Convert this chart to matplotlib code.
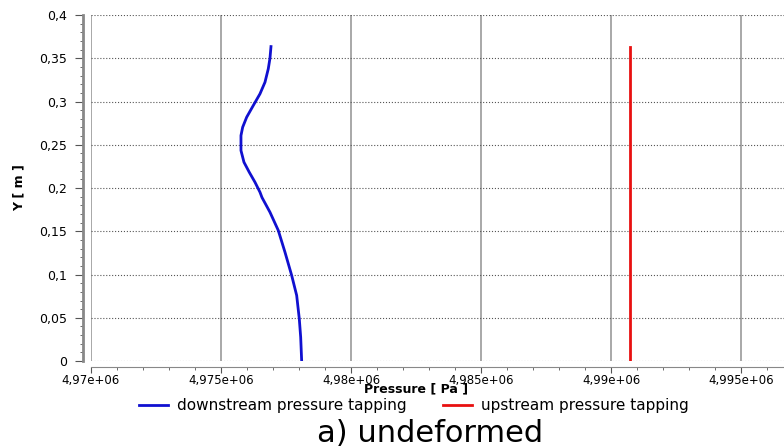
import numpy as np
import matplotlib.pyplot as plt
from matplotlib.ticker import MultipleLocator

# %%
# Pressure profiles
y_down = [0.3635, 0.350, 0.3378, 0.3223, 0.3089, 0.2954, 0.2819, 0.2703, 0.2607,
          0.2434, 0.2299, 0.2183, 0.2068, 0.1952, 0.1891, 0.1721, 0.151, 0.1259,
          0.099, 0.0759, 0.049, 0.0277, 0.0]
p_down = [4.976923e6, 4.976884e6, 4.976819e6, 4.976692e6, 4.976500e6, 4.976242e6,
          4.975988e6, 4.975834e6, 4.975769e6, 4.975769e6, 4.975884e6, 4.976088e6,
          4.976307e6, 4.976500e6, 4.976577e6, 4.976884e6, 4.977204e6, 4.977461e6,
          4.977719e6, 4.977911e6, 4.978011e6, 4.978065e6, 4.978103e6]
y_up = [0.0, 0.3635]
p_up = [4.99073e6, 4.99073e6]

xticks = [4.97e6, 4.975e6, 4.98e6, 4.985e6, 4.99e6, 4.995e6]
xtick_labels = ['4,97e+06', '4,975e+06', '4,98e+06', '4,985e+06', '4,99e+06', '4,995e+06']
yticks = [0, 0.05, 0.1, 0.15, 0.2, 0.25, 0.3, 0.35, 0.4]
ytick_labels = ['0', '0,05', '0,1', '0,15', '0,2', '0,25', '0,3', '0,35', '0,4']

# %%
fig = plt.figure(figsize=(7.84, 4.48), dpi=100)
ax = fig.add_axes([0.116, 0.194, 0.884, 0.7725])

ax.plot(p_down, y_down, color='#1010d0', lw=2, label='downstream pressure tapping')
ax.plot(p_up, y_up, color='#e81010', lw=2, label='upstream pressure tapping')

ax.set_xlim(4.97e6, 4.99665e6)
ax.set_ylim(0, 0.4)
ax.set_xticks(xticks)
ax.set_xticklabels(xtick_labels)
ax.set_yticks(yticks)
ax.set_yticklabels(ytick_labels)
ax.xaxis.set_minor_locator(MultipleLocator(1000))
ax.yaxis.set_minor_locator(MultipleLocator(0.01))

for lab in ax.get_xticklabels() + ax.get_yticklabels():
    lab.set_fontweight('bold')
    lab.set_color('#333333')
ax.tick_params(axis='x', which='major', labelsize=8.5, length=4, color='#555555', pad=1)
ax.tick_params(axis='y', which='major', labelsize=9, length=6, color='#555555', pad=5)
ax.tick_params(axis='both', which='minor', length=2.5, color='#555555')

# grid: vertical solid grey, horizontal dotted
ax.grid(axis='x', which='major', color='#999999', lw=1.2, ls='-')
ax.grid(axis='y', which='major', color='#555555', lw=0.8, ls=':')

for s in ['top', 'right']:
    ax.spines[s].set_visible(False)
ax.spines['left'].set_position(('outward', 6))
ax.spines['bottom'].set_position(('outward', 4))
ax.spines['left'].set_color('#888888')
ax.spines['left'].set_linewidth(2)
ax.spines['bottom'].set_color('#888888')

fig.text(416 / 784, 1 - 389 / 448, 'Pressure [ Pa ]', fontsize=9, fontweight='bold',
         ha='center', va='center')
fig.text(19 / 784, 1 - 188 / 448, 'Y [ m ]', fontsize=9, fontweight='bold',
         ha='center', va='center', rotation=90)

fig.legend(loc='center', bbox_to_anchor=(0.528, 0.094), ncol=2, frameon=False,
           fontsize=11, handlelength=1.9, columnspacing=2.4, handletextpad=0.6,
           borderpad=0.2)
fig.text(430 / 784, 1 - 433 / 448, 'a) undeformed', ha='center', va='center',
         fontsize=22)

fig.savefig('out.png', dpi=100)
